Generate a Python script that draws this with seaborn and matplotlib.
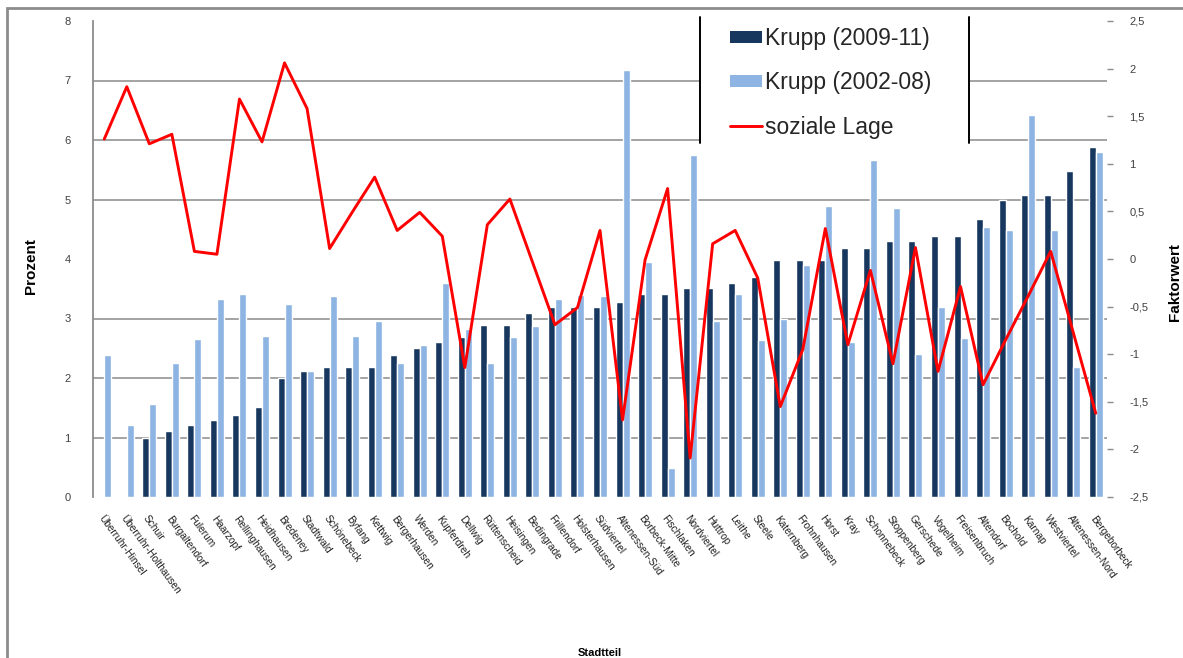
import numpy as np
import pandas as pd
import matplotlib
matplotlib.use("Agg")
import matplotlib.pyplot as plt
import seaborn as sns
from matplotlib.patches import Patch, Rectangle
from matplotlib.lines import Line2D

# Stadtteile, sortiert nach dem Anteil 2009-11
stadtteile = [
    "Überruhr-Hinsel", "Überruhr-Holthausen", "Schuir", "Burgaltendorf",
    "Fulerum", "Haarzopf", "Rellinghausen", "Heidhausen", "Bredeney",
    "Stadtwald", "Schönebeck", "Byfang", "Kettwig", "Bergerhausen",
    "Werden", "Kupferdreh", "Dellwig", "Rüttenscheid", "Heisingen",
    "Bedingrade", "Frillendorf", "Holsterhausen", "Südviertel",
    "Altenessen-Süd", "Borbeck-Mitte", "Fischlaken", "Nordviertel",
    "Huttrop", "Leithe", "Steele", "Katernberg", "Frohnhausen", "Horst",
    "Kray", "Schonnebeck", "Stoppenberg", "Gerschede", "Vogelheim",
    "Freisenbruch", "Altendorf", "Bochold", "Karnap", "Westviertel",
    "Altenessen-Nord", "Bergeborbeck",
]

krupp_2009_11 = [
    0.0, 0.0, 1.0, 1.11, 1.21, 1.29, 1.38, 1.52, 2.0, 2.11,
    2.19, 2.19, 2.19, 2.39, 2.5, 2.6, 2.69, 2.89, 2.89, 3.1,
    3.2, 3.2, 3.2, 3.28, 3.41, 3.41, 3.51, 3.51, 3.59, 3.69,
    3.99, 3.99, 3.99, 4.19, 4.19, 4.31, 4.31, 4.39, 4.39, 4.67,
    4.99, 5.08, 5.08, 5.48, 5.89,
]

krupp_2002_08 = [
    2.39, 1.21, 1.56, 2.25, 2.65, 3.32, 3.41, 2.71, 3.24, 2.11,
    3.38, 2.71, 2.96, 2.25, 2.55, 3.59, 2.83, 2.25, 2.69, 2.87,
    3.32, 3.4, 3.38, 7.17, 3.95, 0.48, 5.75, 2.96, 3.41, 2.64,
    3.0, 3.9, 4.89, 2.6, 5.67, 4.85, 2.41, 3.19, 2.67, 4.53,
    4.49, 6.42, 4.49, 2.19, 5.79,
]

soziale_lage = [
    1.26, 1.81, 1.21, 1.31, 0.08, 0.05, 1.68, 1.23, 2.06, 1.58,
    0.11, 0.49, 0.86, 0.30, 0.49, 0.24, -1.14, 0.36, 0.63, -0.03,
    -0.69, -0.51, 0.30, -1.69, -0.01, 0.74, -2.09, 0.16, 0.30, -0.20,
    -1.55, -0.95, 0.32, -0.90, -0.12, -1.10, 0.12, -1.18, -0.29, -1.32,
    -0.85, -0.39, 0.08, -0.77, -1.62,
]

zeitraeume = ["Krupp (2009-11)", "Krupp (2002-08)"]
lage_name = "soziale Lage"
prozent_ticks = [0, 1, 2, 3, 4, 5, 6, 7, 8]
faktor_ticks = [-2.5, -2, -1.5, -1, -0.5, 0, 0.5, 1, 1.5, 2, 2.5]

DARK = "#17375e"
LIGHT = "#8db4e2"
RED = "#ff0000"
GRID = "#9c9c9c"

sns.set_theme(style="white")
plt.rcParams["font.family"] = ["Liberation Sans", "DejaVu Sans"]

W, H = 1183, 658
fig = plt.figure(figsize=(W / 100, H / 100), dpi=100)
fig.patch.set_facecolor("white")

# plot area in pixels: x 93..1107, y 21..497 (from top)
ax = fig.add_axes([93 / W, 1 - 497 / H, (1107 - 93) / W, (497 - 21) / H])

df = pd.DataFrame({
    "Stadtteil": stadtteile * 2,
    "Zeitraum": [zeitraeume[0]] * len(stadtteile) + [zeitraeume[1]] * len(stadtteile),
    "Prozent": krupp_2009_11 + krupp_2002_08,
})

sns.barplot(
    data=df, x="Stadtteil", y="Prozent", hue="Zeitraum",
    order=stadtteile, hue_order=zeitraeume, palette=[DARK, LIGHT],
    width=0.62, gap=0, saturation=1, errorbar=None, legend=False, ax=ax,
)

n = len(stadtteile)
ax.set_xlim(-0.5, n - 0.5)
ax.set_ylim(prozent_ticks[0], prozent_ticks[-1])
ax.set_yticks(prozent_ticks)
ax.set_yticklabels([str(t) for t in prozent_ticks])
ax.set_axisbelow(True)
ax.grid(axis="y", color=GRID, linewidth=1.3)
ax.grid(axis="x", visible=False)
for t, gl in zip(prozent_ticks, ax.get_ygridlines()):
    if t in (0, 4, 8):
        gl.set_visible(False)

for side in ("top", "right", "bottom"):
    ax.spines[side].set_visible(False)
ax.spines["left"].set_color("#8c8c8c")
ax.spines["left"].set_linewidth(1.3)

ax.tick_params(axis="y", length=0, pad=16, labelsize=8, labelcolor="#404040")
ax.set_xticks(range(n))
ax.set_xticklabels(stadtteile, rotation=-54, ha="left", va="top",
                   rotation_mode="anchor", fontsize=7.3, color="#202020")
ax.tick_params(axis="x", length=0, pad=12)

ax.set_ylabel("Prozent", fontsize=11, fontweight="bold", color="black")
ax.yaxis.set_label_coords(-0.054, 0.485)
ax.set_xlabel("Stadtteil", fontsize=8, fontweight="bold", color="black")
ax.xaxis.set_label_coords(0.5, -0.318)

# secondary axis: social factor
ax2 = ax.twinx()
sns.lineplot(x=np.arange(n), y=soziale_lage, ax=ax2, color=RED, linewidth=2.1)
ax2.set_ylim(faktor_ticks[0], faktor_ticks[-1])
ax2.set_yticks(faktor_ticks)
ax2.set_yticklabels([f"{t:g}".replace(".", ",") for t in faktor_ticks])
ax2.grid(False)
for side in ("top", "right", "bottom", "left"):
    ax2.spines[side].set_visible(False)
ax2.tick_params(axis="y", length=4, width=1, color="#8c8c8c", pad=12,
                labelsize=8, labelcolor="#404040", right=True)
ax2.set_ylabel("Faktorwert", fontsize=11, fontweight="bold", color="black")
ax2.yaxis.set_label_coords(1.060, 0.452)
ax2.set_xlabel("")

# legend area: white panel with black side rules
panel = Rectangle((700 / W, 1 - 143 / H), (969 - 700) / W, (143 - 15) / H,
                  transform=fig.transFigure, facecolor="white", edgecolor="none",
                  zorder=3, clip_on=False)
ax2.add_patch(panel)
for xr in (700, 969):
    fig.add_artist(Line2D([xr / W, xr / W], [1 - 17 / H, 1 - 143 / H],
                          color="black", linewidth=1.4))

handles = [
    Patch(facecolor=DARK, edgecolor="none"),
    Patch(facecolor=LIGHT, edgecolor="none"),
    Line2D([], [], color=RED, linewidth=2.1),
]
leg = ax2.legend(
    handles, zeitraeume + [lage_name], loc="upper left",
    bbox_to_anchor=(730 / W, 1 - 27 / H), bbox_transform=fig.transFigure,
    frameon=False, fontsize=16.5, handlelength=1.4, handleheight=0.45,
    handletextpad=0.13, labelspacing=0.93, borderpad=0, borderaxespad=0,
)
leg.set_zorder(6)

# outer chart frame (top and left edges visible)
fig.add_artist(Rectangle((7 / W, -0.2), 1.5, 1 - 8 / H + 0.2,
                         transform=fig.transFigure, fill=False,
                         edgecolor="#8c8c8c", linewidth=2))

fig.savefig("out.png", dpi=100, facecolor="white")
